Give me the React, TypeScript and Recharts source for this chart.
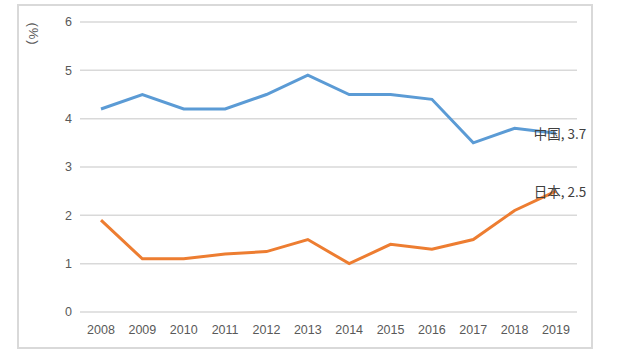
import React from 'react';
import { LineChart, Line, XAxis, YAxis, CartesianGrid } from 'recharts';

const years = ['2008', '2009', '2010', '2011', '2012', '2013', '2014', '2015', '2016', '2017', '2018', '2019'];
const china = [4.2, 4.5, 4.2, 4.2, 4.5, 4.9, 4.5, 4.5, 4.4, 3.5, 3.8, 3.7];
const japan = [1.9, 1.1, 1.1, 1.2, 1.25, 1.5, 1.0, 1.4, 1.3, 1.5, 2.1, 2.5];
const yTicks = [0, 1, 2, 3, 4, 5, 6];
const seriesNames = { china: '中国', japan: '日本' };

const data = years.map((y, i) => ({ year: y, china: china[i], japan: japan[i] }));

const FONT = '"Liberation Sans", Arial, sans-serif';

const makeLabel = (name: string, lastIdx: number) => (props: any) => {
  const { x, y, index, value } = props;
  if (index !== lastIdx) return null;
  return (
    <text
      x={x + 4}
      y={y}
      textAnchor="middle"
      dominantBaseline="central"
      fill="#404040"
      fontSize={13.5}
      fontFamily={'"Noto Sans CJK SC", "Liberation Sans", sans-serif'}
    >
      {`${name}, ${value}`}
    </text>
  );
};

export default function App() {
  return (
    <div style={{ position: 'absolute', left: 0, top: 0, width: 626, height: 356, background: '#fff' }}>
      <div
        style={{
          position: 'absolute',
          left: 17,
          top: 4,
          width: 576,
          height: 345,
          border: '2px solid #D9D9D9',
          boxSizing: 'border-box',
        }}
      />
      <div
        style={{
          position: 'absolute',
          left: 33,
          top: 34,
          transform: 'translate(-50%, -50%) rotate(90deg)',
          fontFamily: FONT,
          fontSize: 13,
          color: '#595959',
          whiteSpace: 'nowrap',
          letterSpacing: 1,
        }}
      >
        (%)
      </div>
      <div style={{ position: 'absolute', left: 0, top: 0 }}>
        <LineChart
          width={626}
          height={356}
          data={data}
          margin={{ top: 22, right: 49, left: 0, bottom: 14 }}
        >
          <CartesianGrid vertical={false} stroke="#D9D9D9" strokeWidth={1.5} />
          <XAxis
            dataKey="year"
            axisLine={false}
            tickLine={false}
            height={30}
            tickMargin={7}
            padding={{ left: 21, right: 21 }}
            tick={{ fill: '#595959', fontSize: 12.5, fontFamily: FONT }}
            interval={0}
          />
          <YAxis
            width={80}
            domain={[0, 6]}
            ticks={yTicks}
            axisLine={false}
            tickLine={false}
            tick={{ fill: '#595959', fontSize: 12.5, fontFamily: FONT }}
          />
          <Line
            dataKey="china"
            stroke="#5B9BD5"
            strokeWidth={3}
            dot={false}
            isAnimationActive={false}
            label={makeLabel(seriesNames.china, years.length - 1)}
          />
          <Line
            dataKey="japan"
            stroke="#ED7D31"
            strokeWidth={3}
            dot={false}
            isAnimationActive={false}
            label={makeLabel(seriesNames.japan, years.length - 1)}
          />
        </LineChart>
      </div>
    </div>
  );
}
